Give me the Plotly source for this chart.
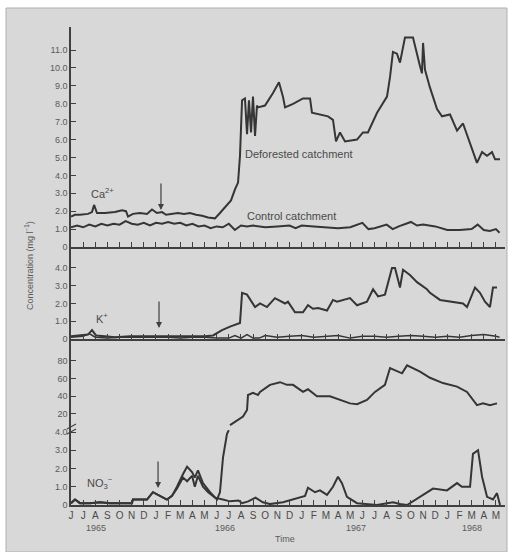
import plotly.graph_objects as go

# ---------------- data (x = months since June 1965) ----------------
month_labels = ["J", "J", "A", "S", "O", "N", "D", "J", "F", "M", "A", "M",
                "J", "J", "A", "S", "O", "N", "D", "J", "F", "M", "A", "M",
                "J", "J", "A", "S", "O", "N", "D", "J", "F", "M", "A", "M"]
year_labels = ["1965", "1966", "1967", "1968"]

ca_def_month = [0.0, 0.33, 0.74, 1.4, 1.73, 1.9, 2.14, 2.8, 3.62, 4.2, 4.53, 4.7, 5.1, 5.68,
                6.26, 6.67, 7.08, 7.5, 7.83, 8.32, 8.81, 9.31, 9.8, 10.3, 10.8, 11.29, 11.86,
                12.27, 12.77, 13.18, 13.5, 13.76, 13.92, 14.09, 14.33, 14.5, 14.66, 14.83,
                14.99, 15.16, 15.32, 15.4, 15.98, 16.64, 17.13, 17.46, 17.63, 18.29, 19.11,
                19.69, 19.85, 20.51, 21.17, 21.58, 21.83, 22.16, 22.57, 23.56, 24.05, 24.46,
                25.21, 26.03, 26.28, 26.52, 26.85, 27.1, 27.51, 28.17, 28.5, 28.75, 28.91,
                29.0, 29.16, 29.57, 30.15, 30.56, 31.22, 31.8, 32.29, 32.7, 33.44, 33.86,
                34.27, 34.68, 34.93, 35.34]
ca_def = [1.7, 1.8, 1.8, 1.85, 1.95, 2.35, 1.9, 1.9, 1.95, 2.05, 2.0, 1.7, 1.85, 1.9,
          1.85, 2.1, 1.9, 1.95, 1.8, 1.85, 1.9, 1.85, 1.9, 1.8, 1.75, 1.65, 1.6,
          1.9, 2.3, 2.6, 3.2, 3.6, 5.1, 8.2, 8.3, 6.3, 8.2, 6.4,
          8.4, 6.2, 7.9, 7.8, 7.9, 8.6, 9.2, 8.4, 7.8, 8.0, 8.3,
          8.3, 7.5, 7.4, 7.3, 7.1, 5.9, 6.4, 5.9, 6.0, 6.4, 6.4,
          7.5, 8.4, 9.5, 10.9, 10.8, 10.3, 11.7, 11.7, 10.7, 10.1, 9.7,
          11.4, 9.9, 8.9, 7.7, 7.3, 7.4, 6.5, 6.9, 6.1, 4.7, 5.3,
          5.1, 5.3, 4.9, 4.9]

ca_ctl_month = [0, 0.5, 1, 1.5, 2, 2.5, 3, 3.5, 4, 4.5, 5, 5.5, 6, 6.5, 7, 7.5, 8, 8.5, 9,
                9.5, 10, 10.5, 11, 11.5, 12, 12.5, 13, 13.5, 14, 14.5, 15, 16, 17, 18, 18.5,
                19, 20, 21, 22, 23, 24, 24.5, 25, 26, 26.5, 27, 28, 28.5, 29, 30, 31, 32,
                33, 33.5, 34, 34.5, 35, 35.3]
ca_ctl = [1.1, 1.2, 1.1, 1.25, 1.15, 1.3, 1.2, 1.3, 1.25, 1.45, 1.3, 1.25, 1.35, 1.2, 1.35,
          1.3, 1.4, 1.3, 1.35, 1.2, 1.3, 1.15, 1.2, 1.05, 1.15, 1.1, 1.3, 0.95, 1.2, 1.15,
          1.2, 1.1, 1.15, 1.2, 1.05, 1.2, 1.15, 1.1, 1.05, 1.1, 1.35, 1.0, 1.05, 1.25, 1.0,
          1.15, 1.4, 1.2, 1.25, 1.15, 0.95, 0.95, 1.0, 1.25, 0.95, 0.9, 1.0, 0.8]

k_def_month = [0, 0.74, 1.4, 1.73, 2.06, 2.8, 3.62, 4.86, 6.5, 8.15, 9.8, 11.04, 11.7, 12.44,
               13.1, 13.92, 14.09, 14.5, 15.16, 15.57, 16.14, 16.8, 17.63, 17.87, 18.45,
               19.11, 19.52, 19.93, 20.35, 21.09, 21.58, 21.91, 22.98, 23.56, 24.38, 24.88,
               25.29, 25.86, 26.44, 26.69, 27.1, 27.35, 27.92, 28.5, 29.32, 29.57, 30.4,
               31.22, 32.29, 32.62, 33.28, 33.69, 34.1, 34.51, 34.76, 35.09]
k_def = [0.15, 0.2, 0.25, 0.5, 0.2, 0.15, 0.1, 0.15, 0.15, 0.15, 0.15, 0.15, 0.2, 0.5,
         0.7, 0.9, 2.6, 2.5, 1.8, 2.0, 1.8, 2.3, 2.0, 2.1, 1.5,
         1.5, 1.9, 1.7, 1.75, 1.6, 2.2, 2.1, 2.3, 1.9, 2.1, 2.8,
         2.4, 2.5, 4.0, 4.0, 2.9, 3.9, 3.6, 3.2, 2.8, 2.6, 2.2,
         2.1, 2.0, 1.8, 2.9, 2.6, 2.1, 1.8, 2.9, 2.9]

k_ctl_month = [0, 1, 1.5, 2, 3, 4, 5, 6, 7, 8, 9, 10, 11, 12, 13, 13.5, 14, 14.5, 15,
               15.5, 16, 17, 18, 19, 20, 21, 22, 23, 24, 25, 26, 27, 28, 29, 30, 31, 32,
               33, 34, 35, 35.3]
k_ctl = [0.1, 0.15, 0.3, 0.1, 0.05, 0.1, 0.1, 0.1, 0.1, 0.1, 0.05, 0.1, 0.1, 0.05, 0.05,
         0.2, 0.05, 0.25, 0.05, 0.05, 0.2, 0.1, 0.15, 0.2, 0.1, 0.15, 0.2, 0.05, 0.15,
         0.15, 0.1, 0.15, 0.2, 0.15, 0.1, 0.15, 0.1, 0.2, 0.25, 0.15, 0.1]

no3_def_low_month = [0, 0.33, 0.74, 1.57, 2.39, 3.2, 4.04, 5.02, 5.1, 6.26, 6.75, 7.33,
                     7.9, 8.32, 8.73, 9.23, 9.56, 9.97, 10.2, 10.46, 10.87, 11.45, 12.03,
                     12.27, 12.52, 12.85, 13.0]
no3_def_low = [0.1, 0.3, 0.1, 0.1, 0.15, 0.1, 0.1, 0.1, 0.3, 0.3, 0.7, 0.5,
               0.3, 0.5, 1.0, 1.7, 2.1, 1.8, 1.5, 1.9, 1.2, 0.7, 0.3,
               0.7, 2.6, 3.9, 4.1]

no3_def_high_month = [13.1, 13.5, 14.17, 14.5, 14.58, 14.99, 15.4, 15.57, 16.39, 17.22,
                      17.79, 18.29, 19.11, 19.52, 20.26, 21.33, 22.16, 22.98, 23.56, 24.38,
                      25.04, 25.86, 26.28, 26.94, 27.27, 27.68, 28.17, 28.75, 29.57, 30.64,
                      31.8, 32.62, 33.44, 33.94, 34.51, 35.09]
no3_def_high = [7.5, 11, 17, 24.5, 41.5, 44, 41.5, 45, 53, 56,
                53, 53, 45, 48, 40, 40, 36, 32, 31, 36,
                45, 53, 72, 68, 66, 75, 72, 68, 61, 55,
                51, 45, 30, 32, 30, 32]

no3_ctl_month = [0, 0.33, 0.74, 1.57, 2.39, 3.2, 4.04, 5.02, 5.1, 6.26, 6.75, 7.33, 7.9,
                 8.32, 8.73, 9.23, 9.56, 9.97, 10.2, 10.46, 10.87, 11.3, 11.86, 12.5, 13.1,
                 13.8, 14.1, 14.6, 15.2, 15.8, 16.39, 17.46, 18.62, 19.28, 19.52, 20.1,
                 20.51, 21.09, 21.58, 21.99, 22.32, 22.73, 23.56, 25.2, 26.52, 27.1, 27.68,
                 28.75, 29.82, 30.97, 31.8, 32.2, 32.87, 33.11, 33.53, 33.86, 34.27, 34.76,
                 35.09, 35.34]
no3_ctl = [0.1, 0.3, 0.1, 0.1, 0.15, 0.1, 0.1, 0.1, 0.3, 0.3, 0.7, 0.5, 0.3,
           0.5, 0.9, 1.5, 1.3, 1.6, 1.0, 1.6, 1.0, 0.7, 0.4, 0.3, 0.2,
           0.25, 0.1, 0.2, 0.4, 0.15, 0.05, 0.15, 0.35, 0.5, 0.95, 0.7,
           0.8, 0.55, 1.0, 1.55, 1.2, 0.45, 0.1, 0.0, 0.15, 0.05, 0.0,
           0.45, 0.9, 0.8, 1.2, 1.0, 1.0, 2.8, 3.0, 1.55, 0.45, 0.3,
           0.65, 0.0]

ca_ticks = [0, 1, 2, 3, 4, 5, 6, 7, 8, 9, 10, 11]
ca_ticktext = ["0", "1.0", "2.0", "3.0", "4.0", "5.0", "6.0", "7.0", "8.0", "9.0", "10.0", "11.0"]
k_ticks = [0, 1, 2, 3, 4]
k_ticktext = ["0", "1.0", "2.0", "3.0", "4.0"]
no3_high_ticks = [20, 40, 60, 80]
no3_low_ticks = [0, 1, 2, 3, 4]
no3_low_ticktext = ["0", "1.0", "2.0", "3.0", "4.0"]

# ---------------- styling ----------------
W, H = 512, 552
LINE = "#353535"
AX = "#404040"
TXT = "#5a5a5a"
FONT = "Liberation Sans"
BG = "#d8d8d8"


def py(p):
    return 1 - p / H


def px(p):
    return p / W


XD = [px(71), px(505)]
XR = [0, 35.75]

fig = go.Figure()
lw = 2.0
fig.add_trace(go.Scatter(x=ca_def_month, y=ca_def, xaxis="x", yaxis="y", mode="lines",
                         line=dict(color=LINE, width=lw)))
fig.add_trace(go.Scatter(x=ca_ctl_month, y=ca_ctl, xaxis="x", yaxis="y", mode="lines",
                         line=dict(color=LINE, width=lw)))
fig.add_trace(go.Scatter(x=k_def_month, y=k_def, xaxis="x2", yaxis="y2", mode="lines",
                         line=dict(color=LINE, width=lw)))
fig.add_trace(go.Scatter(x=k_ctl_month, y=k_ctl, xaxis="x2", yaxis="y2", mode="lines",
                         line=dict(color=LINE, width=1.5)))
fig.add_trace(go.Scatter(x=no3_def_high_month, y=no3_def_high, xaxis="x3", yaxis="y3",
                         mode="lines", line=dict(color=LINE, width=lw)))
fig.add_trace(go.Scatter(x=no3_def_low_month, y=no3_def_low, xaxis="x4", yaxis="y4",
                         mode="lines", line=dict(color=LINE, width=lw)))
fig.add_trace(go.Scatter(x=no3_ctl_month, y=no3_ctl, xaxis="x4", yaxis="y4",
                         mode="lines", line=dict(color=LINE, width=lw)))

tickfont = dict(family=FONT, size=9, color=TXT)


def yax(domain, rng, tv, tt):
    return dict(domain=domain, range=rng, tickvals=tv, ticktext=tt, ticks="inside",
                ticklen=5, tickcolor=AX, showline=True, linecolor=AX, linewidth=1.5,
                showgrid=False, zeroline=False, tickfont=tickfont, fixedrange=True,
                automargin=False)


def xax(anchor, show_line, labels):
    d = dict(domain=XD, range=XR, anchor=anchor, showgrid=False, zeroline=False,
             fixedrange=True, showline=show_line, linecolor=AX, linewidth=1.5,
             automargin=False)
    if show_line:
        d.update(ticks="inside", ticklen=5, tickcolor=AX, tickvals=list(range(36)))
    else:
        d.update(ticks="")
    if labels:
        d.update(ticktext=month_labels, showticklabels=True,
                 tickfont=dict(family=FONT, size=10, color="#4a4a4a"))
    else:
        d.update(showticklabels=False)
    return d


fig.update_layout(
    width=W, height=H, margin=dict(l=0, r=0, t=0, b=0, autoexpand=False),
    paper_bgcolor="white", plot_bgcolor="rgba(0,0,0,0)", showlegend=False,
    xaxis=xax("y", True, False),
    xaxis2=xax("y2", True, False),
    xaxis3=xax("y3", False, False),
    xaxis4=xax("y4", True, True),
    yaxis=yax([py(247), py(27)], [0, 12.29], ca_ticks, ca_ticktext) | dict(anchor="x"),
    yaxis2=yax([py(339), py(247)], [0, 5.18], k_ticks, k_ticktext) | dict(anchor="x2"),
    yaxis3=yax([py(430), py(339)], [1.88, 104.9], no3_high_ticks,
               [str(v) for v in no3_high_ticks]) | dict(anchor="x3"),
    yaxis4=yax([py(505), py(430)], [0, 4.11], no3_low_ticks, no3_low_ticktext) | dict(anchor="x4"),
)

# scanned-page background and axis break marks
fig.add_shape(type="rect", xref="paper", yref="paper", x0=px(6), x1=px(507), y0=0, y1=py(8),
              fillcolor=BG, line=dict(color="#b0b0b0", width=1), layer="below")
for off in (-3, 2):
    fig.add_shape(type="line", xref="paper", yref="paper", x0=px(67), x1=px(76),
                  y0=py(432 + off), y1=py(427 + off), line=dict(color=AX, width=1.2))

ann = []
lab = dict(family=FONT, size=11, color="#4a4a4a")
ann.append(dict(x=2.6, y=3.0, xref="x", yref="y", text="Ca<sup>2+</sup>", showarrow=False,
                font=lab))
ann.append(dict(x=14.2, y=5.2, xref="x", yref="y", text="Deforested catchment",
                showarrow=False, xanchor="left", font=lab))
ann.append(dict(x=14.3, y=1.73, xref="x", yref="y", text="Control catchment",
                showarrow=False, xanchor="left", font=lab))
ann.append(dict(x=2.55, y=1.2, xref="x2", yref="y2", text="K<sup>+</sup>", showarrow=False,
                font=lab))
ann.append(dict(x=2.4, y=1.2, xref="x4", yref="y4", text="NO<sub>3</sub><sup>−</sup>",
                showarrow=False, font=lab))
for xr, yr, xv, yv in (("x", "y", 7.41, 2.07), ("x2", "y2", 7.25, 0.62), ("x4", "y4", 7.17, 0.93)):
    ann.append(dict(x=xv, y=yv, xref=xr, yref=yr, ax=0, ay=-28, text="", showarrow=True,
                    arrowhead=2, arrowsize=1, arrowwidth=1.2, arrowcolor=AX))
for t, xp in zip(year_labels, (84, 225, 368, 484)):
    ann.append(dict(x=px(xp), y=py(535), xref="paper", yref="paper", text=t, showarrow=False,
                    font=dict(family=FONT, size=9, color=TXT)))
ann.append(dict(x=px(285), y=py(546), xref="paper", yref="paper", text="Time",
                showarrow=False, font=dict(family=FONT, size=9, color=TXT)))
ann.append(dict(x=px(21), y=py(266), xref="paper", yref="paper",
                text="Concentration (mg l<sup>−1</sup>)", textangle=-90, showarrow=False,
                font=dict(family=FONT, size=9, color=TXT)))
fig.update_layout(annotations=ann)

fig.write_html("out.html", config={"displayModeBar": False},
               post_script="document.body.style.margin='0';document.body.style.overflow='hidden';")
